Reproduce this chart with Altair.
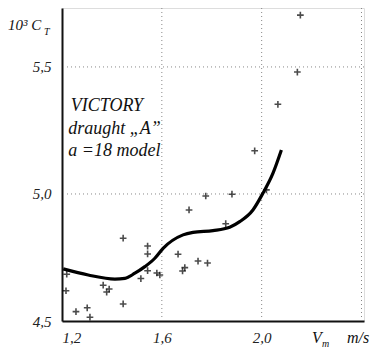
import altair as alt
import pandas as pd

# measured points (V_m in m/s, 10^3 C_T)
pt_x = [1.445, 1.543, 1.543, 1.219, 1.543, 1.580, 1.592, 1.516, 1.365, 1.389,
        1.379, 1.216, 1.445, 1.301, 1.256, 1.312, 1.776, 1.881, 1.709, 1.856,
        1.665, 1.745, 1.783, 1.692, 1.683, 2.155, 2.143, 2.065, 1.972, 2.019]
pt_y = [4.826, 4.795, 4.764, 4.684, 4.698, 4.689, 4.681, 4.667, 4.641, 4.626,
        4.614, 4.619, 4.567, 4.552, 4.537, 4.515, 4.992, 4.999, 4.937, 4.883,
        4.763, 4.736, 4.728, 4.710, 4.697, 5.704, 5.480, 5.353, 5.170, 5.016]

# faired curve
cv_x = [1.205, 1.305, 1.412, 1.452, 1.492, 1.532, 1.572, 1.605, 1.685, 1.725,
        1.805, 1.872, 1.912, 1.965, 2.005, 2.045, 2.079]
cv_y = [4.705, 4.681, 4.665, 4.668, 4.688, 4.714, 4.747, 4.786, 4.839, 4.849,
        4.856, 4.869, 4.891, 4.937, 5.003, 5.081, 5.173]

x_ticks = [1.2, 1.6, 2.0]
y_ticks = [4.5, 5.0, 5.5]
x_grid = [1.6, 2.0, 2.4]
y_grid = [5.0, 5.5]

note_lines = ["VICTORY", "draught \u201eA\u201d", "a =18  model"]
note_x = [1.38, 1.41, 1.41]
note_y = [5.345, 5.255, 5.170]

FONT = "Liberation Sans Narrow"
XD = [1.2, 2.41]
YD = [4.5, 5.732]

pts = pd.DataFrame({"x": pt_x, "y": pt_y})
crv = pd.DataFrame({"x": cv_x, "y": cv_y})
notes = pd.DataFrame({"x": note_x, "y": note_y, "t": note_lines})
xg = pd.DataFrame({"x": x_grid})
yg = pd.DataFrame({"y": y_grid})

lab = "replace(format(datum.value, '.1f'), '.', ',')"

xs = alt.Scale(domain=XD, nice=False, zero=False)
ys = alt.Scale(domain=YD, nice=False, zero=False)

base_x = alt.X("x:Q", scale=xs, axis=alt.Axis(
    values=x_ticks, title=None, grid=False, ticks=False, labelExpr=lab,
    labelFont=FONT, labelFontStyle="italic", labelFontSize=15, labelPadding=9,
    labelColor="#222", domainColor="#111", domainWidth=2))
base_y = alt.Y("y:Q", scale=ys, axis=alt.Axis(
    values=y_ticks, title=None, grid=False, ticks=False, labelExpr=lab,
    labelFont=FONT, labelFontStyle="italic", labelFontSize=15, labelPadding=11,
    labelColor="#222", domainColor="#111", domainWidth=2))

vgrid = alt.Chart(xg).mark_rule(color="#888", strokeDash=[1, 3], strokeWidth=1).encode(
    x=alt.X("x:Q", scale=xs))
hgrid = alt.Chart(yg).mark_rule(color="#888", strokeDash=[1, 3], strokeWidth=1).encode(
    y=alt.Y("y:Q", scale=ys))

curve = alt.Chart(crv).mark_line(color="black", strokeWidth=3.2, interpolate="monotone").encode(
    x=base_x, y=base_y)

points = alt.Chart(pts).mark_point(
    shape="M-1,0L1,0M0,-1L0,1", size=45, color="black", strokeWidth=1.6, filled=False
).encode(x=alt.X("x:Q", scale=xs), y=alt.Y("y:Q", scale=ys))

note = alt.Chart(notes).mark_text(
    font=FONT, fontStyle="italic", fontSize=18, color="#111", align="center", baseline="middle"
).encode(x=alt.X("x:Q", scale=xs), y=alt.Y("y:Q", scale=ys), text="t:N")

def label(txt, px, py, size, align="left"):
    return alt.Chart(pd.DataFrame({"t": [txt]})).mark_text(
        font=FONT, fontStyle="italic", fontSize=size, color="#111", align=align,
        baseline="alphabetic").encode(x=alt.value(px), y=alt.value(py), text="t:N")

labels = [
    label("10\u00b3 C", -54, 22, 15),
    label("T", -18, 27, 10),
    label("V", 250, 335, 16),
    label("m", 260, 339, 10),
    label("m/s", 285, 335, 16),
]

chart = alt.layer(vgrid, hgrid, curve, points, note, *labels).properties(
    width=302, height=313,
    autosize=alt.AutoSizeParams(type="none"),
    padding={"left": 54, "top": 0, "right": 7, "bottom": 29},
).configure_view(stroke=None).configure(background="white")

chart.save("out.html", embed_options={"renderer": "svg", "actions": False})
